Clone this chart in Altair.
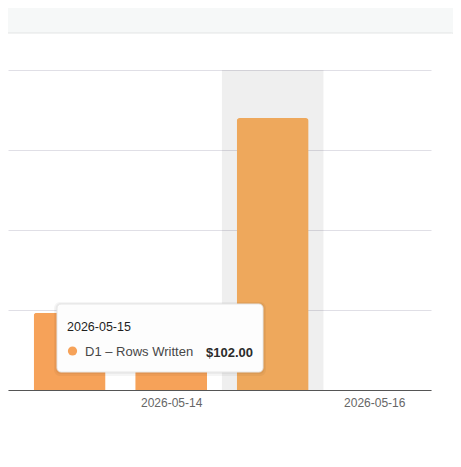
import altair as alt
import pandas as pd

# ---- data ----
dates = ["2026-05-13", "2026-05-14", "2026-05-15", "2026-05-16"]
values = [29, 30, 102, 0]
series_name = "D1 – Rows Written"
hover_date = "2026-05-15"
y_ticks = [0, 30, 60, 90, 120]
x_label_dates = ["2026-05-14", "2026-05-16"]

df = pd.DataFrame({"date": dates, "value": values})
df["day"] = pd.to_datetime(df["date"]).dt.day
df["series"] = series_name
label_days = [int(d[-2:]) for d in x_label_dates]
prefix = dates[0][:8]

FONT = "Liberation Sans"
BAR = "#f6a259"
BAR_HOVER = "#eea85c"

W, H = 423, 320

base = alt.Chart(df)

x_scale = alt.Scale(domain=[12.442, 16.51], nice=False, zero=False)
y_scale = alt.Scale(domain=[0, 120], nice=False)

x_axis = alt.Axis(
    values=label_days,
    labelExpr=f"'{prefix}' + format(datum.value, '02d')",
    title=None, grid=False, ticks=False,
    domainColor="#555555", domainWidth=1,
    labelColor="#666666", labelFontSize=12, labelFont=FONT,
    labelPadding=7, labelFlush=False,
)
y_axis = alt.Axis(
    values=y_ticks, labels=False, ticks=False, domain=False, title=None,
    gridColor="#e0dfe6", gridWidth=1,
)

# page decoration: grey header strip and card outline
top_strip = base.mark_rect(color="#f6f8f8").encode(
    x=alt.value(-20), x2=alt.value(470), y=alt.value(-62), y2=alt.value(-29)
).transform_filter(alt.datum.date == dates[0])
card_cap = base.mark_rect(color="white", cornerRadius=8).encode(
    x=alt.value(-30), x2=alt.value(451.5), y=alt.value(-37), y2=alt.value(-10)
).transform_filter(alt.datum.date == dates[0])
card_outline = base.mark_rect(
    fillOpacity=0, stroke="#e3e5e5", strokeWidth=1, cornerRadius=8
).encode(
    x=alt.value(-30), x2=alt.value(451.5), y=alt.value(-37), y2=alt.value(420)
).transform_filter(alt.datum.date == dates[0])

band = base.mark_rect(color="#000000", opacity=0.063).transform_filter(
    alt.datum.date == hover_date
).transform_calculate(
    x0="datum.day - 0.5", x1="datum.day + 0.5"
).encode(
    x=alt.X("x0:Q", scale=x_scale, axis=x_axis),
    x2="x1:Q",
    y=alt.value(0), y2=alt.value(H),
)

bars = base.mark_bar(size=72, cornerRadiusTopLeft=3, cornerRadiusTopRight=3).encode(
    x=alt.X("day:Q", scale=x_scale, axis=x_axis),
    y=alt.Y("value:Q", scale=y_scale, axis=y_axis),
    color=alt.condition(alt.datum.date == hover_date, alt.value(BAR_HOVER), alt.value(BAR)),
)

hov = base.transform_filter(alt.datum.date == hover_date)

shadow1 = hov.mark_rect(color="#000000", opacity=0.04, cornerRadius=6).encode(
    x=alt.value(46), x2=alt.value(258), y=alt.value(232), y2=alt.value(306)
)
shadow2 = hov.mark_rect(color="#000000", opacity=0.04, cornerRadius=5).encode(
    x=alt.value(47.5), x2=alt.value(256.5), y=alt.value(233), y2=alt.value(304)
)
tip = hov.mark_rect(fill="#fdfdfd", stroke="#e6e6e6", strokeWidth=1, cornerRadius=4).encode(
    x=alt.value(49), x2=alt.value(255), y=alt.value(234), y2=alt.value(302)
)
tip_date = hov.mark_text(
    align="left", baseline="alphabetic", font=FONT, fontSize=12.5,
    fontWeight="normal", color="#1f1f1f"
).encode(x=alt.value(59), y=alt.value(261), text="date:N")
tip_dot = hov.mark_point(filled=True, shape="circle", size=85, color=BAR, opacity=1).encode(
    x=alt.value(64.5), y=alt.value(281)
)
tip_series = hov.mark_text(
    align="left", baseline="alphabetic", font=FONT, fontSize=13, color="#474747"
).encode(x=alt.value(77), y=alt.value(286), text="series:N")
tip_value = hov.mark_text(
    align="right", baseline="alphabetic", font=FONT, fontSize=13,
    fontWeight="bold", color="#2b2b2b"
).encode(x=alt.value(245), y=alt.value(287), text=alt.Text("value:Q", format="$.2f"))

chart = alt.layer(
    top_strip, card_cap, card_outline, band, bars,
    shadow1, shadow2, tip, tip_date, tip_dot, tip_series, tip_value,
).properties(
    width=W, height=H,
    autosize="none",
    padding={"left": 0, "top": 62, "right": 22, "bottom": 63},
    background="white",
).configure_view(stroke=None)

chart.save("out.html", embed_options={"renderer": "svg", "actions": False})
